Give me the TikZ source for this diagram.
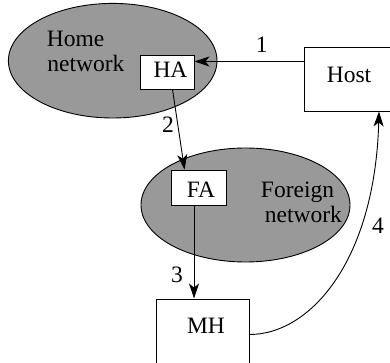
\documentclass[tikz,border=0pt]{standalone}
\usepackage{fontspec}
\setmainfont{Liberation Serif}
\usetikzlibrary{arrows.meta,calc}
\definecolor{netgray}{RGB}{153,153,153}
\begin{document}
\begin{tikzpicture}[x=1pt,y=-1pt,line width=0.9pt,
  every node/.style={font=\fontsize{23.5}{25}\selectfont,inner sep=0pt},
  net/.style={draw=black,fill=netgray},
  box/.style={draw=black,fill=white,rectangle},
  arr/.style={-{Stealth[length=15pt,width=10pt,inset=4pt]}}]
\useasboundingbox (0,0) rectangle (390,363);

% the two networks
\path[net] (112.7,60.7) ellipse [x radius=104.3pt,y radius=57.3pt];
\path[net] (245.5,205) ellipse [x radius=104.5pt,y radius=57pt];
\node[anchor=base west] (homeA) at (46.5,47) {Home};
\node[anchor=base west] (homeB) at (47,72) {network};
\node[anchor=base west] (forA) at (260.5,197) {Foreign};
\node[anchor=base west] (forB) at (264.5,222) {network};

% agents and hosts
\node[box,minimum width=54pt,minimum height=34pt] (HA) at (167,72) {};
\node[box,minimum width=55pt,minimum height=35pt] (FA) at (198.5,187.5) {};
\node[box,minimum width=90pt,minimum height=64pt] (Host) at (349,79) {};
\node[box,minimum width=93pt,minimum height=71pt] (MH) at (202.5,334.5) {};
\node (HAt) at (170.5,69.5) {HA};
\node (FAt) at (201,189.7) {FA};
\node (Hostt) at (349,74.5) {Host};
\node (MHt) at (206,326) {MH};

% message path
\coordinate (p1) at ($(Host.north west)!0.23!(Host.south west)$);
\draw[arr] (p1) -- (p1 -| HA.east);
\draw[arr] ($(HA.south west)!0.6!(HA.south east)$) -- ($(FA.north west)!0.25!(FA.north east)$);
\coordinate (p3) at ($(FA.south west)!0.42!(FA.south east)$);
\draw[arr] (p3) -- (p3 |- MH.north);
\draw[arr] (MH.east) .. controls +(61,0) and +(-4,149) .. ($(Host.south west)!0.83!(Host.south east)$);

% step numbers
\node (l1) at (261.7,44.7) {1};
\node (l2) at (168,124.5) {2};
\node (l3) at (177,275) {3};
\node (l4) at (378,226) {4};
\end{tikzpicture}
\end{document}
